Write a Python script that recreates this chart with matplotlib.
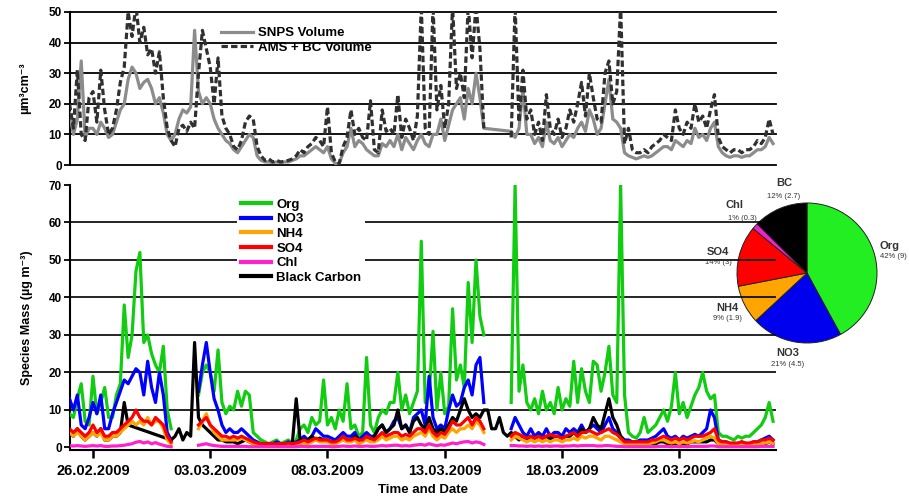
import numpy as np
import matplotlib
matplotlib.use('Agg')
import matplotlib.pyplot as plt
import matplotlib.dates as mdates
from matplotlib.lines import Line2D

plt.rcParams['font.family'] = ['Liberation Sans', 'DejaVu Sans']

nan = np.nan
start = np.datetime64('2009-02-25T00:00')
step_hours = 4

# ---- top panel: volume (um3 cm-3), 4-hourly from 25.02.2009 00:00 ----
ams_bc_volume = [
    20, 12, 31, 10, 8, 22,
    24, 14, 31, 18, 10, 12,
    18, 27, 32, 50, 42, 52,
    40, 45, 36, 38, 30, 37,
    22, 12, 8, 6, 12, 13,
    11, 14, 12, 30, 44, 38,
    32, 20, 35, 16, 12, 10,
    6, 5, 8, 14, 16, 15,
    6, 3, 1.5, 2, 1, 1.5,
    1, 1.2, 1.5, 2, 3, 5,
    4, 6, 7, 9, 8, 6,
    19, 4, 1, 0.5, 6, 9,
    18, 10, 12, 9, 8, 21,
    5, 4, 18, 11, 12, 10,
    23, 9, 15, 12, 8, 16,
    52, 12, 10, 52, 18, 26,
    12, 20, 52, 25, 30, 22,
    52, 35, 52, 38, 12, nan,
    nan, nan, nan, nan, nan, 9,
    52, 14, 31, 15, 18, 10,
    14, 8, 23, 12, 10, 15,
    9, 12, 18, 14, 20, 27,
    16, 30, 22, 15, 14, 30,
    34, 20, 24, 52, 7, 12,
    5, 4, 4, 5, 4, 6,
    7, 8, 10, 9, 8, 18,
    12, 10, 14, 12, 20, 14,
    16, 12, 18, 23, 9, 6,
    5, 4, 5, 5, 4, 5,
    5, 6, 8, 7, 9, 15,
    10]

snps_volume = [
    17, 10, 15, 34, 9, 12,
    12, 10, 14, 12, 9, 10,
    14, 18, 20, 28, 32, 30,
    25, 27, 28, 25, 20, 22,
    17, 10, 8, 10, 15, 18,
    17, 19, 44, 24, 20, 22,
    20, 15, 12, 10, 8, 7,
    5, 4, 6, 8, 10, 9,
    3, 1.5, 1, 1, 0.8, 1,
    0.8, 1, 1, 1.5, 2, 3,
    3, 4, 5, 6, 5, 4,
    6, 2, 0.5, 0.5, 4, 6,
    12, 6, 8, 7, 5, 4,
    3, 3, 7, 6, 8, 6,
    10, 5, 9, 7, 5, 8,
    10, 7, 6, 10, 10, 15,
    8, 13, 18, 20, 22, 15,
    25, 20, 30, 22, 12, nan,
    nan, nan, nan, nan, nan, 11,
    9, 12, 25, 10, 10, 7,
    9, 6, 14, 8, 7, 9,
    6, 8, 10, 9, 12, 14,
    11, 18, 15, 10, 12, 20,
    28, 15, 14, 12, 4, 3,
    2.5, 2, 2.5, 3, 2.5, 3,
    4, 5, 6, 6, 5, 8,
    7, 6, 8, 7, 12, 9,
    10, 8, 12, 14, 6, 4,
    3, 2.5, 3, 3, 2.5, 3,
    3, 4, 5, 5, 6, 9,
    7]

# ---- bottom panel: species mass (ug m-3) ----
org = [
    9, 8, 13, 17, 7, 6,
    19, 9, 12, 16, 8, 8,
    14, 17, 38, 24, 30, 47,
    52, 28, 30, 25, 22, 20,
    27, 10, 5, nan, nan, nan,
    nan, nan, nan, 14, 20, 22,
    20, 15, 26, 12, 9, 11,
    10, 15, 11, 15, 14, 4,
    3, 2, 1.5, 1, 1.5, 2,
    1, 1.5, 2, 1, 2, 5,
    6, 4, 8, 6, 7, 18,
    6, 8, 5, 10, 7, 17,
    5, 6, 3, 4, 24, 6,
    4, 8, 10, 9, 12, 12,
    20, 10, 14, 9, 12, 15,
    55, 12, 14, 31, 10, 20,
    9, 11, 37, 18, 22, 16,
    44, 28, 50, 35, 30, nan,
    nan, nan, nan, nan, nan, 12,
    70, 15, 22, 12, 10, 13,
    9, 15, 10, 12, 9, 16,
    10, 13, 11, 23, 12, 21,
    15, 12, 23, 22, 15, 20,
    27, 14, 12, 70, 14, 4,
    3, 2.5, 4, 8, 4, 5,
    6, 8, 10, 7, 11, 20,
    9, 12, 8, 11, 14, 16,
    20, 15, 13, 14, 4, 3,
    3, 2.5, 2, 3, 2.5, 3,
    3, 4, 5, 6, 8, 12,
    7]

no3 = [
    13, 10, 14, 6, 5, 8,
    12, 9, 14, 5, 5, 9,
    12, 15, 18, 17, 19, 21,
    20, 14, 23, 16, 12, 20,
    14, 4, 2, nan, nan, nan,
    nan, nan, nan, 15, 22, 28,
    20, 13, 10, 6, 4, 5,
    4, 4, 5, 4, 3, 2,
    1.5, 1, 1, 1, 1, 1.5,
    1, 1, 1.5, 1, 1.5, 2,
    3, 2, 3, 5, 4, 3,
    3, 2.5, 2, 3, 4, 3,
    3, 4, 2, 3, 4, 3,
    3, 5, 6, 4, 5, 7,
    8, 5, 6, 4, 8, 9,
    10, 6, 19, 8, 5, 6,
    5, 10, 14, 11, 12, 16,
    18, 14, 22, 24, 12, nan,
    nan, nan, nan, nan, nan, 5,
    8, 6, 4, 3, 5, 3,
    4, 3, 5, 3, 4, 4,
    3, 5, 4, 5, 4, 6,
    4, 5, 6, 5, 4, 6,
    8, 5, 4, 3, 2, 2,
    1.5, 1.5, 2, 2, 2, 2.5,
    3, 4, 5, 3, 2.5, 3,
    2, 3, 2.5, 3, 3.5, 3,
    4, 5, 10, 8, 2, 1.5,
    1.5, 1, 1, 1, 1.5, 1,
    1, 1.5, 1.5, 2, 2.5, 3,
    2]

nh4 = [
    4, 3, 4, 3, 2, 3,
    4, 3, 4, 2, 2, 3,
    3, 4, 5, 6, 7, 6,
    7, 6, 8, 6, 7, 7,
    5, 2, 1, nan, nan, nan,
    nan, nan, nan, 5, 7, 9,
    6, 4, 3, 2, 2, 2,
    2, 2, 2.5, 2, 1.5, 1,
    0.8, 0.6, 0.5, 0.5, 0.5, 0.6,
    0.5, 0.5, 0.6, 0.6, 0.8, 1,
    1.2, 1, 1.5, 2, 1.5, 1.5,
    1.5, 1, 1, 1.5, 2, 1.5,
    1.5, 2, 1, 1.5, 2, 1.5,
    1.5, 2, 3, 2, 2.5, 3,
    3, 2, 2.5, 2, 3, 3.5,
    4, 3, 5, 3, 2, 3,
    2.5, 4, 5, 4, 5, 5,
    6, 5, 7, 6, 4, nan,
    nan, nan, nan, nan, nan, 2,
    3, 2.5, 2, 1.5, 2, 1.5,
    2, 1.5, 2, 1.5, 2, 2,
    1.5, 2, 2, 2.5, 2, 3,
    2.5, 3, 3, 2.5, 2, 3,
    3, 2.5, 2, 1.5, 1, 1,
    0.8, 0.8, 1, 1, 1, 1.2,
    1.5, 2, 2, 1.5, 1.2, 1.5,
    1, 1.5, 1.2, 1.5, 1.8, 1.5,
    2, 2.5, 3, 2.5, 1, 0.8,
    0.8, 0.6, 0.6, 0.6, 0.8, 0.6,
    0.6, 0.8, 0.8, 1, 1.2, 1.5,
    1]

so4 = [
    5, 4, 5, 4, 3, 4,
    6, 4, 5, 3, 3, 4,
    4, 5, 6, 7, 8, 10,
    8, 7, 7, 6, 8, 7,
    6, 3, 1.5, nan, nan, nan,
    nan, nan, nan, 6, 7, 8,
    6, 5, 4, 3, 3, 2.5,
    3, 2.5, 3, 2.5, 2, 1.5,
    1.2, 1, 1, 1, 1, 1,
    1, 1, 1.2, 1, 1.2, 1.5,
    2, 1.5, 2, 2.5, 2, 2,
    2, 1.5, 1.5, 2, 3, 2,
    2, 2.5, 2, 2, 3, 2.5,
    2, 3, 4, 3, 3.5, 4,
    4, 3, 3.5, 3, 4, 5,
    5, 4, 6, 4, 3, 4,
    3.5, 5, 7, 6, 6, 7,
    8, 6, 8, 7, 5, nan,
    nan, nan, nan, nan, nan, 3,
    4, 3.5, 3, 2.5, 3, 2.5,
    3, 2.5, 3, 3.5, 3, 3,
    2.5, 3, 3.5, 4, 3, 4,
    4, 4.5, 4, 3.5, 4, 4.5,
    5, 4, 3.5, 2.5, 1.5, 1.5,
    1.5, 1.5, 1.5, 1.5, 1.5, 2,
    2, 2.5, 3, 2.5, 2, 2.5,
    2, 2.5, 2, 2.5, 3, 3,
    3, 3.5, 4, 5, 2, 1.5,
    1.5, 1.2, 1.2, 1.2, 1.5, 1.2,
    1.2, 1.5, 1.5, 2, 2, 2.5,
    2]

chl = [
    0.5, 0.4, 0.5, 0.4, 0.3, 0.4,
    0.5, 0.4, 0.5, 0.3, 0.3, 0.4,
    0.4, 0.5, 0.6, 0.8, 1.0, 1.4,
    1.6, 1.2, 1.5, 1.0, 1.3, 0.9,
    0.6, 0.3, 0.2, nan, nan, nan,
    nan, nan, nan, 0.6, 0.8, 1.0,
    0.7, 0.5, 0.4, 0.3, 0.3, 0.3,
    0.3, 0.3, 0.3, 0.3, 0.2, 0.2,
    0.2, 0.2, 0.2, 0.2, 0.2, 0.2,
    0.2, 0.2, 0.2, 0.2, 0.2, 0.3,
    0.3, 0.2, 0.3, 0.3, 0.3, 0.3,
    0.3, 0.2, 0.2, 0.3, 0.4, 0.3,
    0.3, 0.4, 0.3, 0.3, 0.4, 0.3,
    0.3, 0.4, 0.5, 0.4, 0.5, 0.6,
    0.6, 0.4, 0.5, 0.4, 0.6, 0.7,
    0.8, 0.6, 1.0, 0.7, 0.5, 0.7,
    0.6, 0.9, 1.2, 1.0, 1.3, 1.5,
    1.6, 1.2, 1.5, 1.3, 0.8, nan,
    nan, nan, nan, nan, nan, 0.5,
    0.5, 0.4, 0.4, 0.3, 0.4, 0.3,
    0.4, 0.3, 0.4, 0.3, 0.4, 0.4,
    0.3, 0.4, 0.4, 0.5, 0.4, 0.5,
    0.5, 0.5, 0.5, 0.4, 0.4, 0.5,
    0.5, 0.4, 0.3, 0.3, 0.2, 0.2,
    0.2, 0.2, 0.2, 0.2, 0.2, 0.2,
    0.2, 0.3, 0.3, 0.3, 0.2, 0.3,
    0.2, 0.3, 0.2, 0.3, 0.3, 0.3,
    0.3, 0.3, 0.4, 0.4, 0.2, 0.2,
    0.2, 0.2, 0.2, 0.2, 0.2, 0.2,
    0.2, 0.2, 0.2, 0.3, 0.3, 0.3,
    0.3]

black_carbon = [
    4, 3, 5, 3, 2, 3,
    4, 3, 5, 2, 2, 3,
    3, 4, 12, 6, nan, nan,
    nan, nan, nan, nan, nan, nan,
    nan, nan, 2, 3, 5, 2,
    4, 3, 28, 8, 6, 5,
    4, 3, 2, 2, 1.5, 1.5,
    1.5, 1, 1.5, 2, 1.5, 1,
    1, 0.8, 0.8, 1, 0.8, 0.8,
    0.8, 1, 1, 1, 13, 2,
    2, 2, 3, 2, 2.5, 2,
    2, 1.5, 1.5, 2, 2.5, 2,
    2, 3, 2, 2, 3, 2,
    3, 5, 6, 4, 5, 6,
    10, 5, 6, 4, 7, 8,
    6, 5, 8, 5, 4, 5,
    4, 6, 8, 7, 10, 13,
    10, 8, 9, 8, 10, 10,
    5, 5, 8, 4, 3, 4,
    3, 2, 3, 2, 3, 2.5,
    3, 2.5, 3, 2, 3, 3,
    2.5, 3, 3, 4, 3, 5,
    4, 5, 8, 6, 5, 9,
    13, 8, 6, 3, 1.5, 1,
    0.8, 0.8, 1, 1, 1, 1,
    1, 1.5, 1.5, 1, 1, 1,
    1, 1, 1, 1.5, 1.5, 1.5,
    1.5, 1.5, 2, 2, 1, 1,
    0.8, 0.8, 0.8, 0.8, 0.8, 0.8,
    0.8, 0.8, 1, 1, 1, 1.5,
    1]

# ---- pie: campaign mean composition ----
pie_names = ['Org', 'NO3', 'NH4', 'SO4', 'Chl', 'BC']
pie_values = [9, 4.5, 1.9, 3, 0.3, 2.7]
pie_percent = ['42%', '21%', '9%', '14%', '1%', '12%']
pie_colors = ['#22ee22', '#0000ee', '#ffa500', '#ff0000', '#ee22cc', '#000000']

date_ticks = ['2009-02-26', '2009-03-03', '2009-03-08', '2009-03-13',
              '2009-03-18', '2009-03-23']

# ---------------------------------------------------------------
W, H = 909, 504
n = len(org)
t = start + np.arange(n) * np.timedelta64(step_hours, 'h')
tnum = mdates.date2num(t.astype('datetime64[s]').astype(object))

def arr(v):
    return np.array(v, dtype=float)

fig = plt.figure(figsize=(W / 100, H / 100), dpi=100)
x0 = 70 / W
wax = 706 / W
ax1 = fig.add_axes([x0, 1 - 165 / H, wax, 153 / H])
ax2 = fig.add_axes([x0, 1 - 450 / H, wax, 265 / H])
ax3 = fig.add_axes([737 / W, 1 - 343 / H, 140 / W, 140 / H])
ax3.set_zorder(0)
ax2.set_zorder(2)
ax2.patch.set_alpha(0)

xlim = (mdates.date2num(np.datetime64('2009-02-25T00:30').astype(object)),
        mdates.date2num(np.datetime64('2009-03-27T03:00').astype(object)))

LW = 2.3
# top panel
sn = arr(snps_volume)
m = ~np.isnan(sn)
ax1.plot(tnum[m], sn[m], color='#8c8c8c', lw=LW, label='SNPS Volume', zorder=3)
ax1.plot(tnum, arr(ams_bc_volume), color='#303030', lw=LW, ls=(0, (2.0, 1.0)),
         label='AMS + BC Volume', zorder=4)
ax1.set_xlim(*xlim)
ax1.set_ylim(0, 50)
for lev in [10, 20, 30, 40, 50]:
    ax1.axhline(lev, color='black', lw=1.3, zorder=1, clip_on=False)
ax1.set_yticks([0, 10, 20, 30, 40, 50])
ax1.set_xticks([])
for s in ['top', 'right']:
    ax1.spines[s].set_visible(False)
ax1.spines['left'].set_linewidth(1.5)
ax1.spines['bottom'].set_linewidth(1.3)
ax1.tick_params(axis='y', direction='out', length=4, width=1.3, labelsize=8.5, pad=2)
for lab in ax1.get_yticklabels():
    lab.set_fontweight('bold')
ax1.set_ylabel('µm³cm⁻³', fontsize=9, fontweight='bold')
ax1.yaxis.set_label_coords((31 - 70) / 706, 0.5)
ax1.legend(loc='upper left', bbox_to_anchor=(212 / W, 1 - 18 / H),
           bbox_transform=fig.transFigure, frameon=False,
           prop={'weight': 'bold', 'size': 9.5}, handlelength=2.4,
           handletextpad=0.4, labelspacing=0.15, borderpad=0.2)

# bottom panel
series = [
    (org, '#11cc11', 'Org'),
    (no3, '#0000ff', 'NO3'),
    (nh4, '#ffa500', 'NH4'),
    (so4, '#ff0000', 'SO4'),
    (chl, '#ff22cc', 'Chl'),
    (black_carbon, '#000000', 'Black Carbon'),
]
order_z = {'Org': 3, 'NO3': 4, 'Black Carbon': 5, 'NH4': 6, 'SO4': 7, 'Chl': 8}
handles = []
for vals, col, name in series:
    v = arr(vals)
    if name == 'Black Carbon':
        mm = ~np.isnan(v)
        ax2.plot(tnum[mm], v[mm], color=col, lw=LW, zorder=order_z[name])
    else:
        ax2.plot(tnum, v, color=col, lw=LW, zorder=order_z[name])
    handles.append(Line2D([], [], color=col, lw=3, label=name))

ax2.set_xlim(*xlim)
ax2.set_ylim(-0.67, 70)
for lev in [10, 20, 30, 40, 50, 60]:
    ax2.axhline(lev, color='black', lw=1.2, zorder=1)
ax2.set_yticks([0, 10, 20, 30, 40, 50, 60, 70])
ticks = [mdates.date2num(np.datetime64(d).astype('datetime64[s]').astype(object)) for d in date_ticks]
ax2.set_xticks(ticks)
ax2.xaxis.set_major_formatter(mdates.DateFormatter('%d.%m.%Y'))
for s in ['top', 'right']:
    ax2.spines[s].set_visible(False)
ax2.spines['left'].set_linewidth(1.5)
ax2.spines['bottom'].set_linewidth(1.5)
ax2.tick_params(axis='y', direction='out', length=4, width=1.3, labelsize=8.5, pad=2)
ax2.tick_params(axis='x', direction='out', length=6, width=1.8, labelsize=10.5, pad=4)
for lab in ax2.get_yticklabels() + ax2.get_xticklabels():
    lab.set_fontweight('bold')
ax2.set_ylabel('Species Mass (µg m⁻³)', fontsize=9, fontweight='bold')
ax2.yaxis.set_label_coords((33 - 70) / 706, 0.5)
ax2.set_xlabel('Time and Date', fontsize=9.5, fontweight='bold')
ax2.xaxis.set_label_coords(0.5, (450 - 484) / 265)
leg = ax2.legend(handles=handles, loc='upper left', bbox_to_anchor=(230 / W, 1 - 188 / H),
                 bbox_transform=fig.transFigure, frameon=True, fancybox=False,
                 prop={'weight': 'bold', 'size': 9.5}, handlelength=2.3,
                 handletextpad=0.4, labelspacing=0.18, borderpad=0.3)
leg.get_frame().set_facecolor('white')
leg.get_frame().set_edgecolor('none')
leg.get_frame().set_alpha(1)
leg.set_zorder(10)

# pie
ax3.pie(pie_values, colors=pie_colors, startangle=90, counterclock=False,
        radius=1.0, wedgeprops=dict(edgecolor='#222222', linewidth=0.7))
ax3.set_xlim(-1.0, 1.0)
ax3.set_ylim(-1.0, 1.0)
ax3.set_aspect('equal')
ax3.axis('off')

label_pos = {  # pixel centres of name / value text
    'Org': (890, 246, 893, 257),
    'NO3': (788, 353, 788, 364),
    'NH4': (727, 308, 727, 319),
    'SO4': (718, 252, 718, 263),
    'Chl': (735, 205, 742, 219),
    'BC': (784, 183, 784, 196),
}
for name, val, pct in zip(pie_names, pie_values, pie_percent):
    xn, yn, xp, yp = label_pos[name]
    fig.text(xn / W, 1 - yn / H, name, ha='center', va='center', fontsize=8,
             fontweight='bold', color='#333333', zorder=12)
    fig.text(xp / W, 1 - yp / H, f'{pct} ({val:g})', ha='center', va='center',
             fontsize=5.5, color='#333333', zorder=12)

fig.savefig('out.png', dpi=100, facecolor='white')
